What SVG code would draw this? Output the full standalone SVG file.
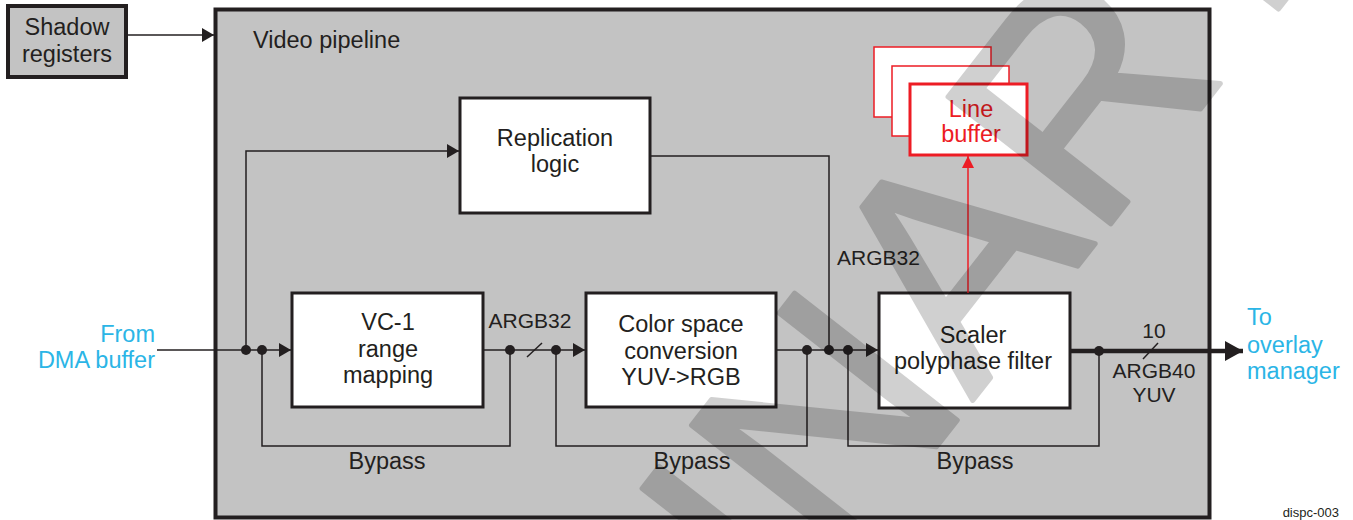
<svg xmlns="http://www.w3.org/2000/svg" width="1353" height="520" viewBox="0 0 1353 520">
  <style>
    .t { font-family: "Liberation Sans", Arial, Helvetica, sans-serif; font-size: 23.5px; fill: #231f20; }
    .s { font-size: 21px; }
    .mid { text-anchor: middle; }
    .end { text-anchor: end; }
    .cyan { fill: #2bb5e6; }
    .red { fill: #ed1c24; }
    .box { fill: #ffffff; stroke: #231f20; stroke-width: 3; }
    .wire { fill: none; stroke: #231f20; stroke-width: 1.5; }
    .dot { fill: #231f20; }
    .wm { font-family: "Liberation Sans", Arial, Helvetica, sans-serif; font-size: 300px; fill: #000000; stroke: #000000; stroke-width: 5; stroke-linejoin: round; }
  </style>
  <defs>
    <marker id="arr" viewBox="0 0 12 14" refX="12" refY="7" markerWidth="12" markerHeight="14" markerUnits="userSpaceOnUse" orient="auto">
      <path d="M0,0 L12,7 L0,14 z" fill="#231f20"/>
    </marker>
    <marker id="arrBig" viewBox="0 0 18 20" refX="18" refY="10" markerWidth="18" markerHeight="20" markerUnits="userSpaceOnUse" orient="auto">
      <path d="M0,0 L18,10 L0,20 z" fill="#231f20"/>
    </marker>
    <marker id="arrRed" viewBox="0 0 12 12" refX="12" refY="6" markerWidth="12" markerHeight="12" markerUnits="userSpaceOnUse" orient="auto">
      <path d="M0,0 L12,6 L0,12 z" fill="#ed1c24"/>
    </marker>
  </defs>

  <g id="shadow-registers">
    <rect x="8" y="6" width="118" height="71" fill="#c3c3c3" stroke="#231f20" stroke-width="4"/>
    <text class="t mid" x="67" y="35">Shadow</text>
    <text class="t mid" x="67" y="62">registers</text>
  </g>

  <g id="video-pipeline">
    <rect x="215.5" y="9.5" width="994" height="508" fill="#c3c3c3" stroke="#231f20" stroke-width="4"/>
    <text class="t" x="253" y="48">Video pipeline</text>
  </g>

  <g id="replication-logic">
    <rect class="box" x="460" y="98" width="190" height="115"/>
    <text class="t mid" x="555" y="146">Replication</text>
    <text class="t mid" x="555" y="172">logic</text>
  </g>

  <g id="vc1-range-mapping">
    <rect class="box" x="292" y="293" width="191" height="114"/>
    <text class="t mid" x="388" y="330">VC-1</text>
    <text class="t mid" x="388" y="357">range</text>
    <text class="t mid" x="388" y="383">mapping</text>
  </g>

  <g id="color-space-conversion">
    <rect class="box" x="586" y="293" width="190" height="114"/>
    <text class="t mid" x="681" y="332">Color space</text>
    <text class="t mid" x="681" y="359">conversion</text>
    <text class="t mid" x="681" y="385">YUV-&gt;RGB</text>
  </g>

  <g id="scaler-polyphase-filter">
    <rect class="box" x="879" y="293" width="191" height="115"/>
    <text class="t mid" x="973" y="343">Scaler</text>
    <text class="t mid" x="973" y="369">polyphase filter</text>
  </g>

  <g id="line-buffer">
    <rect x="874" y="47" width="117" height="70" fill="#ffffff" stroke="#ed1c24" stroke-width="1.5"/>
    <rect x="892" y="66" width="117" height="70" fill="#ffffff" stroke="#ed1c24" stroke-width="1.5"/>
    <rect x="910" y="84" width="117" height="71" fill="#ffffff" stroke="#ed1c24" stroke-width="3"/>
    <text class="t mid red" x="971" y="117">Line</text>
    <text class="t mid red" x="971" y="142">buffer</text>
  </g>

  <g id="connectors">
    <path class="wire" d="M126,35 H214" marker-end="url(#arr)"/>
    <path class="wire" d="M157,350 H291" marker-end="url(#arr)"/>
    <path class="wire" d="M246,350 V151 H459" marker-end="url(#arr)"/>
    <path class="wire" d="M262,350 V446 H510 V350"/>
    <path class="wire" d="M483,350 H585" marker-end="url(#arr)"/>
    <path class="wire" d="M527,357 L542,343"/>
    <path class="wire" d="M556,350 V446 H807 V350"/>
    <path class="wire" d="M776,350 H878" marker-end="url(#arr)"/>
    <path class="wire" d="M650,156 H829 V350"/>
    <path class="wire" d="M848,350 V446 H1099 V351"/>
    <path d="M1070,351 H1243" fill="none" stroke="#231f20" stroke-width="4.5" marker-end="url(#arrBig)"/>
    <path class="wire" d="M1143,359 L1158,343"/>
    <path d="M968,293 V156" fill="none" stroke="#ed1c24" stroke-width="1.5" marker-end="url(#arrRed)"/>
    <circle class="dot" cx="246" cy="350" r="5"/>
    <circle class="dot" cx="262" cy="350" r="5"/>
    <circle class="dot" cx="510" cy="350" r="5"/>
    <circle class="dot" cx="556" cy="350" r="5"/>
    <circle class="dot" cx="807" cy="350" r="5"/>
    <circle class="dot" cx="829" cy="350" r="5"/>
    <circle class="dot" cx="848" cy="350" r="5"/>
    <circle class="dot" cx="1099" cy="351" r="5"/>
  </g>

  <g id="labels">
    <text class="t s mid" x="530" y="328">ARGB32</text>
    <text class="t s" x="837" y="265">ARGB32</text>
    <text class="t s mid" x="1154" y="338">10</text>
    <text class="t s mid" x="1154" y="378">ARGB40</text>
    <text class="t s mid" x="1154" y="402">YUV</text>
    <text class="t mid" x="387" y="469">Bypass</text>
    <text class="t mid" x="692" y="469">Bypass</text>
    <text class="t mid" x="975" y="469">Bypass</text>
    <text class="t end cyan" x="155" y="342">From</text>
    <text class="t end cyan" x="155" y="368">DMA buffer</text>
    <text class="t cyan" x="1247" y="325">To</text>
    <text class="t cyan" x="1247" y="353">overlay</text>
    <text class="t cyan" x="1247" y="379">manager</text>
    <text class="t" style="font-size:13px" x="1339" y="517" text-anchor="end">dispc-003</text>
  </g>

  <g id="watermark" opacity="0.18">
    <text class="wm" transform="translate(100,1517.5) rotate(-52)" x="0" y="0">PRELIMINARY</text>
  </g>
</svg>
